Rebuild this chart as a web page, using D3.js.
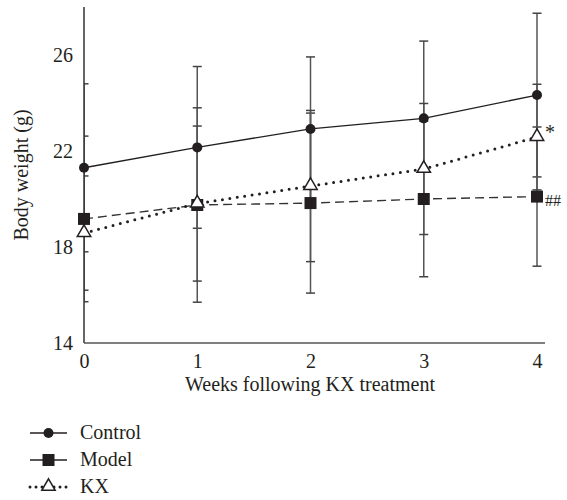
<!DOCTYPE html>
<html>
<head>
<meta charset="utf-8">
<script src="https://cdn.jsdelivr.net/npm/d3@7"></script>
<style>
  body { margin: 0; background: #fff; }
  text { font-family: 'Liberation Serif', 'DejaVu Serif', serif; fill: #231f20; }
</style>
</head>
<body>
<svg width="567" height="500"></svg>
<script>
// Data
const weeks = [0, 1, 2, 3, 4]
const controlMean = [21.3, 22.15, 22.92, 23.36, 24.33]
const controlSd = [3.5, 3.37, 3.0, 3.22, 3.41]
const modelMean = [19.17, 19.75, 19.83, 20.0, 20.1]
const modelSd = [3.45, 4.05, 3.75, 3.24, 2.9]
const kxMean = [18.58, 19.81, 20.54, 21.25, 22.58]
const kxSd = [2.38, 3.23, 3.15, 2.73, 2.2]
const yTicks = [14, 18, 22, 26]
const seriesNames = ['Control', 'Model', 'KX']

let svg = d3.select('svg')
const ink = '#231f20'
const fs = '20px'

const x = d3.scaleLinear().domain([0, 4]).range([84, 537])
const y = d3.scaleLinear().domain([14, 28]).range([343, 7])

const series = [
  { name: seriesNames[0], mean: controlMean, sd: controlSd, shape: 'circle', dash: null },
  { name: seriesNames[1], mean: modelMean, sd: modelSd, shape: 'square', dash: '9,5' },
  { name: seriesNames[2], mean: kxMean, sd: kxSd, shape: 'triangle', dash: '0,7.5' }
]

// clip so error bar caps at week 0 only show right of the axis
svg.append('clipPath').attr('id', 'plot')
  .append('rect').attr('x', x(0)).attr('y', 0).attr('width', 500).attr('height', y(14))

// Error bars
const bars = svg.append('g').attr('clip-path', 'url(#plot)')
series.forEach(s => {
  weeks.forEach((w, i) => {
    const top = y(s.mean[i] + s.sd[i])
    const bot = y(s.mean[i] - s.sd[i])
    bars.append('line')
      .attr('x1', x(w)).attr('x2', x(w)).attr('y1', top).attr('y2', bot)
      .attr('stroke', '#555').attr('stroke-width', 1.5)
    ;[top, bot].forEach(c => {
      bars.append('line')
        .attr('x1', x(w) - 4.5).attr('x2', x(w) + 4.5).attr('y1', c).attr('y2', c)
        .attr('stroke', '#444').attr('stroke-width', 1.5)
    })
  })
})

// Axes
svg.append('line').attr('x1', x(0)).attr('x2', x(0)).attr('y1', y(28)).attr('y2', y(14))
  .attr('stroke', '#333').attr('stroke-width', 1.5)
svg.append('line').attr('x1', x(0)).attr('x2', 545).attr('y1', y(14)).attr('y2', y(14))
  .attr('stroke', '#555').attr('stroke-width', 1.5)

const yAxis = d3.axisLeft(y).tickValues(yTicks).tickSize(0).tickPadding(11)
svg.append('g').attr('transform', `translate(${x(0)},0)`).call(yAxis)
  .call(g => g.select('.domain').remove())
  .selectAll('text').style('font-size', fs).attr('fill', ink)
  .attr('font-family', null)

const xAxis = d3.axisBottom(x).tickValues(weeks).tickFormat(d3.format('d')).tickSize(0).tickPadding(11)
svg.append('g').attr('transform', `translate(0,${y(14)})`).call(xAxis)
  .call(g => g.select('.domain').remove())
  .selectAll('text').style('font-size', fs).attr('fill', ink)
  .attr('font-family', null)

svg.append('text').attr('x', 310).attr('y', 391).attr('text-anchor', 'middle')
  .style('font-size', fs).text('Weeks following KX treatment')
svg.append('text').attr('transform', 'translate(28,175) rotate(-90)').attr('text-anchor', 'middle')
  .style('font-size', fs).text('Body weight (g)')

// Lines
const line = d3.line().x((d, i) => x(weeks[i])).y(d => y(d))
series.forEach(s => {
  const p = svg.append('path').datum(s.mean).attr('d', line).attr('fill', 'none')
  if (s.shape === 'circle') p.attr('stroke', ink).attr('stroke-width', 1.4)
  if (s.shape === 'square') p.attr('stroke', '#333').attr('stroke-width', 1.4).attr('stroke-dasharray', s.dash)
  if (s.shape === 'triangle') p.attr('stroke', ink).attr('stroke-width', 3).attr('stroke-linecap', 'round').attr('stroke-dasharray', s.dash)
})

const tri = d3.symbol().type(d3.symbolTriangle).size(78)
const drawMarker = (g, shape, cx, cy) => {
  if (shape === 'circle') g.append('circle').attr('cx', cx).attr('cy', cy).attr('r', 5).attr('fill', ink)
  if (shape === 'square') g.append('rect').attr('x', cx - 6).attr('y', cy - 6).attr('width', 12).attr('height', 12).attr('fill', ink)
  if (shape === 'triangle') g.append('path').attr('d', tri()).attr('transform', `translate(${cx},${cy - 0.5})`)
    .attr('fill', '#fff').attr('stroke', ink).attr('stroke-width', 1.5)
}

const marks = svg.append('g')
series.forEach(s => {
  s.mean.forEach((m, i) => drawMarker(marks, s.shape, x(weeks[i]), y(m)))
})

// Significance marks
svg.append('text').attr('x', x(4) + 8).attr('y', y(kxMean[4]) + 2).style('font-size', '20px').attr('fill', '#444').text('*')
svg.append('text').attr('x', x(4) + 8).attr('y', y(modelMean[4]) + 9).style('font-size', '16px').attr('fill', '#555').text('##')

// Legend
const legend = svg.append('g')
const ly = [433, 460, 487]
series.forEach((s, i) => {
  const l = legend.append('line').attr('x1', 30).attr('x2', 67).attr('y1', ly[i]).attr('y2', ly[i])
    .attr('stroke', ink)
  if (s.shape === 'triangle') l.attr('stroke-width', 3).attr('stroke-linecap', 'round').attr('stroke-dasharray', '0,6')
  else l.attr('stroke-width', 1.4)
  drawMarker(legend, s.shape, 48.5, ly[i])
  legend.append('text').attr('x', 80).attr('y', ly[i] + 6).style('font-size', fs).text(s.name)
})
</script>
</body>
</html>
